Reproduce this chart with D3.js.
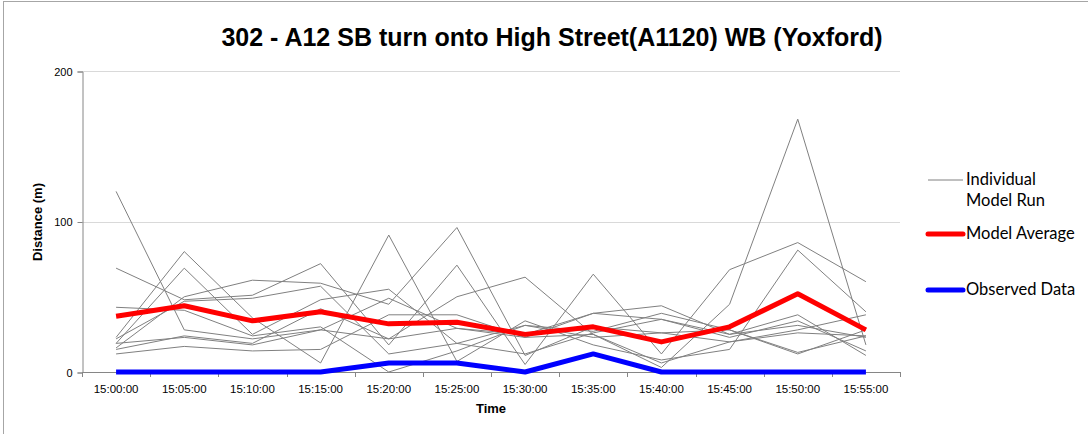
<!DOCTYPE html>
<html>
<head>
<meta charset="utf-8">
<script src="https://cdn.jsdelivr.net/npm/d3@7"></script>
<style>
  body { margin: 0; background: #fff; }
  svg { display: block; }
</style>
</head>
<body>
<div id="chart"></div>
<script>
(function () {
  const times = ["15:00:00", "15:05:00", "15:10:00", "15:15:00", "15:20:00", "15:25:00",
                 "15:30:00", "15:35:00", "15:40:00", "15:45:00", "15:50:00", "15:55:00"];
  const yTicks = [0, 100, 200];

  // individual model runs
  const run1  = [120, 28, 22, 28, 49, 29, 23, 39, 44, 25, 38, 11];
  const run2  = [69, 48, 51, 72, 18, 71, 5, 65, 12, 68, 86, 60];
  const run3  = [43, 41, 24, 30, 0, 14, 31, 27, 39, 28, 12, 28];
  const run4  = [23, 80, 36, 6, 91, 7, 34, 18, 8, 15, 81, 40];
  const run5  = [19, 69, 25, 48, 55, 19, 12, 26, 35, 23, 34, 14];
  const run6  = [16, 50, 61, 59, 45, 96, 11, 30, 26, 20, 26, 24];
  const run7  = [15, 24, 19, 42, 22, 50, 63, 25, 6, 20, 28, 38];
  const run8  = [12, 17, 14, 15, 38, 38, 23, 25, 3, 45, 168, 18];
  const run9  = [22, 47, 49, 57, 12, 19, 31, 23, 26, 28, 13, 24];
  const run10 = [19, 23, 18, 28, 22, 29, 25, 39, 35, 25, 31, 23];
  const runs = [run1, run2, run3, run4, run5, run6, run7, run8, run9, run10];

  const modelAverage = [37, 44, 34, 40, 32, 33, 25, 30, 20, 30, 52, 28];
  const observed     = [0, 0, 0, 0, 6, 6, 0, 12, 0, 0, 0, 0];

  const width = 1088, height = 434;
  const left = 82, right = 900, top = 71, bottom = 372;

  const svg = d3.select("#chart").append("svg")
    .attr("width", width).attr("height", height);

  // chart area border
  svg.append("rect")
    .attr("x", 3.5).attr("y", 1.5)
    .attr("width", 1100).attr("height", 450)
    .attr("fill", "none")
    .attr("stroke", "#a6a6a6")
    .attr("stroke-width", 1);

  const x = d3.scaleBand().domain(times).range([left, right]);
  const y = d3.scaleLinear().domain([0, 200]).range([bottom, top]);
  const cx = d => x(d) + x.bandwidth() / 2;

  // title
  svg.append("text")
    .attr("x", 552).attr("y", 46)
    .attr("text-anchor", "middle")
    .attr("font-family", "Liberation Sans, Arial, sans-serif")
    .attr("font-weight", "bold")
    .attr("font-size", 25)
    .attr("fill", "#000")
    .text("302 - A12 SB turn onto High Street(A1120) WB (Yoxford)");

  // gridlines
  svg.append("g")
    .selectAll("line")
    .data(yTicks.filter(v => v > 0))
    .enter().append("line")
    .attr("x1", left).attr("x2", right)
    .attr("y1", d => Math.round(y(d)) + 0.5)
    .attr("y2", d => Math.round(y(d)) + 0.5)
    .attr("stroke", "#d9d9d9")
    .attr("stroke-width", 1);

  // y axis
  const yAxis = svg.append("g")
    .attr("transform", `translate(${left + 0.5},0.5)`)
    .call(d3.axisLeft(y).tickValues(yTicks).tickSize(5).tickPadding(5));
  yAxis.select(".domain").attr("stroke", "#868686");
  yAxis.selectAll(".tick line").attr("stroke", "#868686");
  yAxis.selectAll("text")
    .attr("font-family", "Liberation Sans, Arial, sans-serif")
    .attr("font-size", 11)
    .attr("fill", "#000");

  // x axis
  const xAxis = svg.append("g")
    .attr("transform", `translate(0,${bottom + 0.5})`)
    .call(d3.axisBottom(x).tickSize(0).tickPadding(12));
  xAxis.select(".domain").attr("stroke", "#868686").attr("d", `M${left},0H${right}`);
  xAxis.selectAll("text")
    .attr("font-family", "Liberation Sans, Arial, sans-serif")
    .attr("font-size", 11.5)
    .attr("fill", "#000");

  // tick marks between categories
  svg.append("g")
    .selectAll("line")
    .data(times.concat(["end"]))
    .enter().append("line")
    .attr("x1", (d, i) => Math.round(left + i * x.step()) + 0.5)
    .attr("x2", (d, i) => Math.round(left + i * x.step()) + 0.5)
    .attr("y1", bottom)
    .attr("y2", bottom + 5)
    .attr("stroke", "#868686");

  // axis titles
  svg.append("text")
    .attr("x", 491).attr("y", 413)
    .attr("text-anchor", "middle")
    .attr("font-family", "Liberation Sans, Arial, sans-serif")
    .attr("font-weight", "bold")
    .attr("font-size", 13)
    .text("Time");

  svg.append("text")
    .attr("transform", "translate(42,222) rotate(-90)")
    .attr("text-anchor", "middle")
    .attr("font-family", "Liberation Sans, Arial, sans-serif")
    .attr("font-weight", "bold")
    .attr("font-size", 13)
    .text("Distance (m)");

  const line = d3.line()
    .x((d, i) => cx(times[i]))
    .y(d => y(d));

  // individual runs
  svg.append("g")
    .selectAll("path")
    .data(runs)
    .enter().append("path")
    .attr("d", line)
    .attr("fill", "none")
    .attr("stroke", "#808080")
    .attr("stroke-width", 1);

  // observed
  svg.append("path")
    .datum(observed)
    .attr("d", line)
    .attr("fill", "none")
    .attr("stroke", "#0000ff")
    .attr("stroke-width", 5)
    .attr("stroke-linejoin", "round");

  // model average
  svg.append("path")
    .datum(modelAverage)
    .attr("d", line)
    .attr("fill", "none")
    .attr("stroke", "#ff0000")
    .attr("stroke-width", 5)
    .attr("stroke-linejoin", "round");

  // legend
  const legendItems = [
    { lines: ["Individual", "Model Run"], color: "#808080", w: 1, y: 180 },
    { lines: ["Model Average"], color: "#ff0000", w: 5, y: 234 },
    { lines: ["Observed Data"], color: "#0000ff", w: 5, y: 290 }
  ];
  const legend = svg.append("g");
  legendItems.forEach(item => {
    legend.append("line")
      .attr("x1", 928).attr("x2", 963)
      .attr("y1", item.y).attr("y2", item.y)
      .attr("stroke", item.color)
      .attr("stroke-width", item.w)
      .attr("stroke-linecap", item.w > 1 ? "round" : "butt");
    item.lines.forEach((t, i) => {
      legend.append("text")
        .attr("x", 966)
        .attr("y", item.y + 5 + i * 21)
        .attr("font-family", "Lato, Carlito, sans-serif")
        .attr("font-size", 16.5)
        .attr("fill", "#000")
        .text(t);
    });
  });
})();
</script>
</body>
</html>
